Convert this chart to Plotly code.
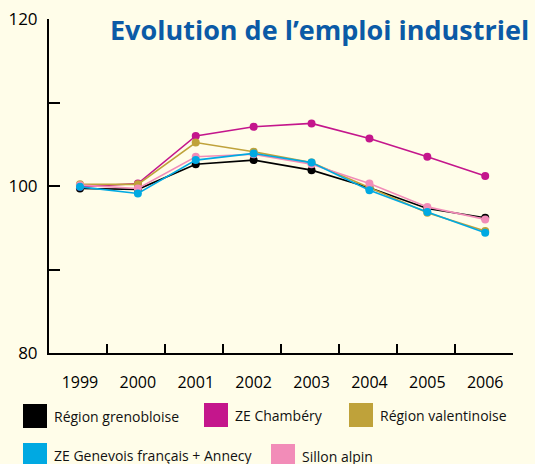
import plotly.graph_objects as go

years = ["1999", "2000", "2001", "2002", "2003", "2004", "2005", "2006"]
names = ["Région grenobloise", "ZE Chambéry", "Région valentinoise",
         "ZE Genevois français + Annecy", "Sillon alpin"]
colors = ["#000000", "#C4168C", "#BFA23A", "#00A9E2", "#F28CB8"]

grenoble = [99.7, 99.6, 102.6, 103.1, 101.9, 99.8, 97.3, 96.2]
chambery = [99.9, 100.3, 106.0, 107.1, 107.5, 105.7, 103.5, 101.2]
valence = [100.2, 100.2, 105.2, 104.1, 102.8, 99.8, 96.8, 94.6]
genevois = [99.9, 99.1, 103.1, 103.9, 102.8, 99.5, 96.9, 94.4]
sillon = [100.1, 99.7, 103.5, 103.8, 102.6, 100.3, 97.5, 96.0]

series = [grenoble, chambery, valence, genevois, sillon]
draw_order = [0, 1, 2, 4, 3]

y_ticks = [80, 90, 100, 110, 120]
y_ticktext = ["80", "", "100", "", "120"]

BG = "#FFFDE9"
W, H = 535, 464
L, R, T, B = 49, 22, 19, 111

x = list(range(len(years)))

fig = go.Figure()
for i in draw_order:
    fig.add_trace(go.Scatter(
        x=x, y=series[i], name=names[i], mode="lines+markers",
        line=dict(color=colors[i], width=1.6),
        marker=dict(color=colors[i], size=8),
        showlegend=False, xaxis="x", yaxis="y"))

# custom legend (squares + text) in pixel-based paper coordinates
pw, ph = W - L - R, H - T - B
def px(xp):
    return (xp - L) / pw
def py(yp):
    return (H - B - yp) / ph

legend_pos = [(23, 404), (204, 403), (349, 403), (23, 443), (271, 444)]
shapes = []
annotations = []
for i, (lx, ly) in enumerate(legend_pos):
    shapes.append(dict(type="rect", xref="paper", yref="paper",
                       x0=px(lx), x1=px(lx + 24), y0=py(ly), y1=py(ly + 24),
                       fillcolor=colors[i], line=dict(width=0), layer="above"))
    annotations.append(dict(text=names[i], xref="paper", yref="paper",
                            x=px(lx + 29), y=py(ly + 12.5), xanchor="left",
                            yanchor="middle", showarrow=False,
                            font=dict(size=14, color="#111111")))

fig.update_layout(
    width=W, height=H,
    margin=dict(l=L, r=R, t=T, b=B, autoexpand=False),
    paper_bgcolor=BG, plot_bgcolor=BG,
    font=dict(family="Open Sans", color="#000000"),
    title=dict(text="<b>Evolution de l’emploi industriel</b>",
               x=110 / W, xanchor="left", xref="container",
               y=1 - 31 / H, yanchor="middle", yref="container",
               font=dict(size=27, color="#0B5AA6", family="Open Sans")),
    xaxis=dict(range=[-0.535, 7.48], tickvals=x, ticktext=years,
               ticks="", showline=True, linecolor="#000000", linewidth=2,
               showgrid=False, zeroline=False, tickfont=dict(size=16),
               ticklabelstandoff=14, automargin=False),
    xaxis2=dict(range=[-0.535, 7.48], overlaying="x", anchor="y", side="bottom",
                tickvals=[v + 0.475 for v in x], showticklabels=False,
                ticks="inside", ticklen=9, tickwidth=2, tickcolor="#000000",
                showline=False, showgrid=False, zeroline=False, automargin=False),
    yaxis=dict(range=[80, 120], tickvals=y_ticks, ticktext=y_ticktext,
               ticks="inside", ticklen=11, tickwidth=2, tickcolor="#000000",
               showline=True, linecolor="#000000", linewidth=2,
               showgrid=False, zeroline=False, tickfont=dict(size=17),
               ticklabelstandoff=6, automargin=False),
    shapes=shapes, annotations=annotations,
)
# dummy trace to show xaxis2
fig.add_trace(go.Scatter(x=[None], y=[None], xaxis="x2", yaxis="y",
                         showlegend=False, hoverinfo="skip"))

fig.write_html("out.html", config={"displayModeBar": False},
               post_script="document.body.style.margin='0';document.body.style.overflow='hidden';")
